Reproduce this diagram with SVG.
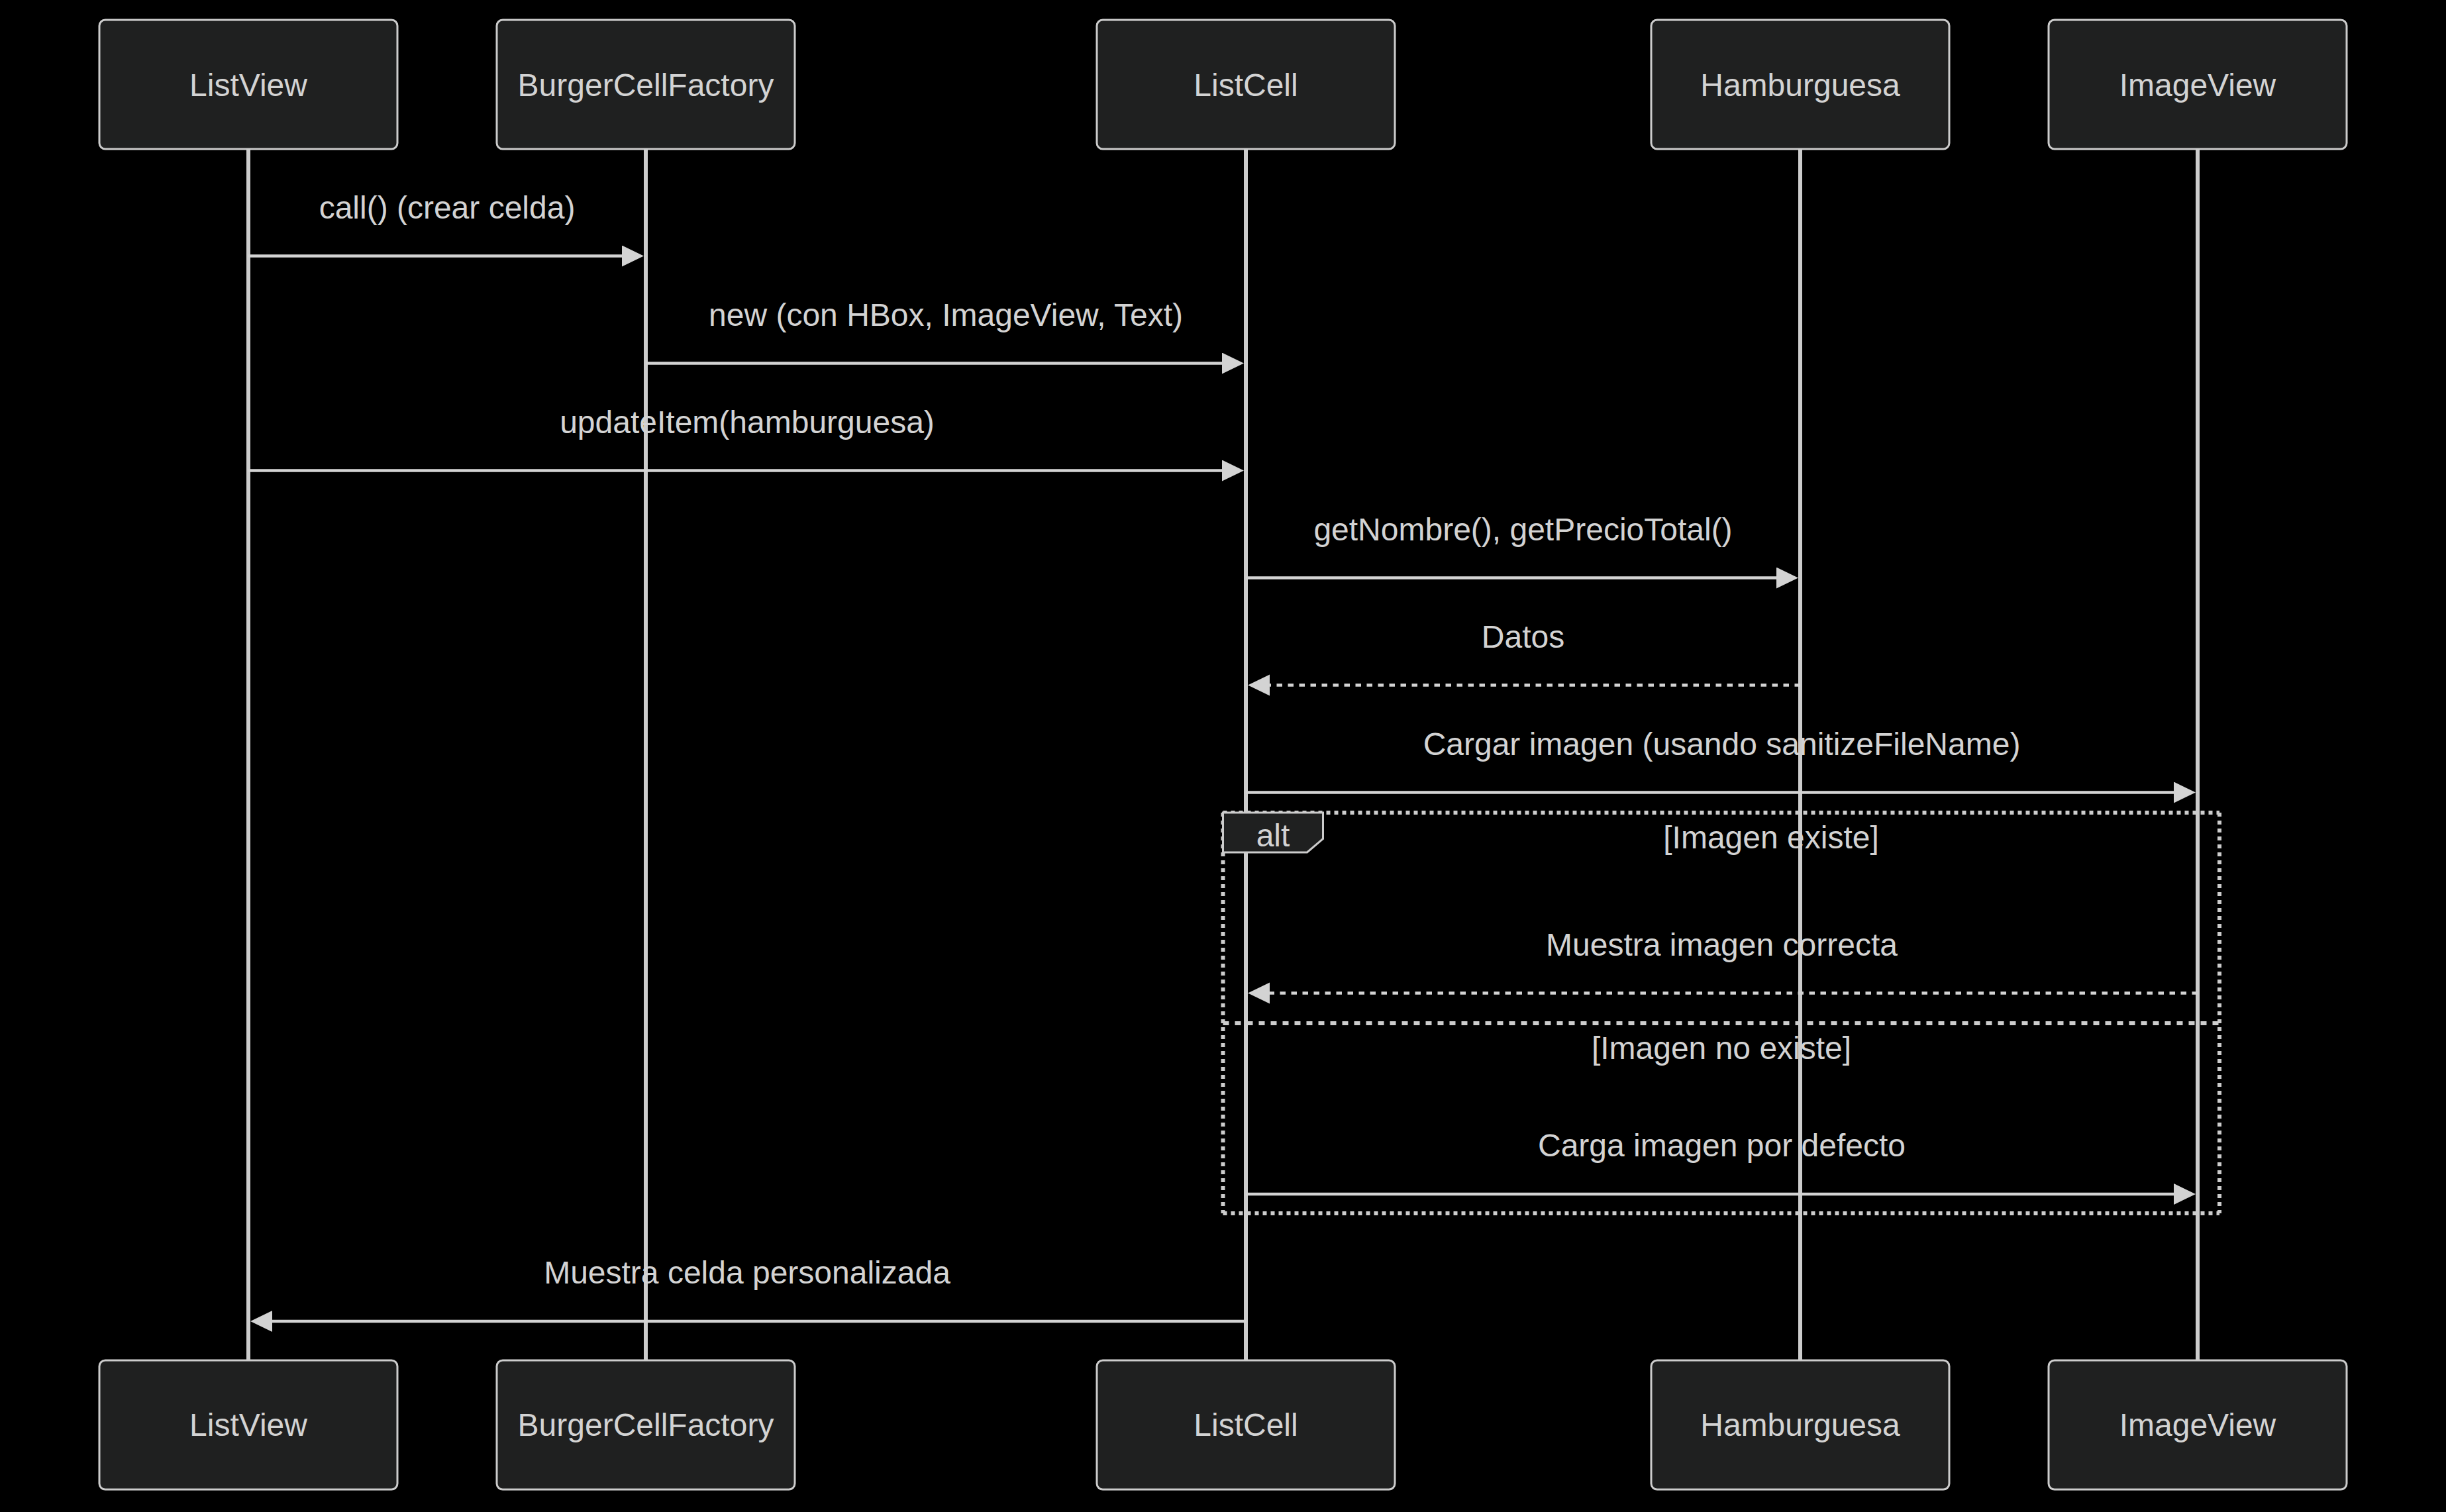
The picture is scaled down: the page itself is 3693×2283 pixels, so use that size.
<svg xmlns="http://www.w3.org/2000/svg" width="3693" height="2283" viewBox="0 0 3693 2283">
  <style>
    .actor { fill: #1f2020; stroke: #cccccc; stroke-width: 3; }
    .actor-text { fill: #d3d3d3; font-family: "Liberation Sans", Arial, sans-serif; font-size: 48px; text-anchor: middle; }
    .lifeline { stroke: #cccccc; stroke-width: 6; }
    .msg { stroke: #d3d3d3; stroke-width: 4.5; fill: none; }
    .msg-dashed { stroke: #d3d3d3; stroke-width: 4.5; fill: none; stroke-dasharray: 8.5 8.5; }
    .msg-text { fill: #d3d3d3; font-family: "Liberation Sans", Arial, sans-serif; font-size: 48px; text-anchor: middle; }
    .loop-line { stroke: #cccccc; stroke-width: 6; stroke-dasharray: 6 6; fill: none; }
    .loop-sep { stroke: #cccccc; stroke-width: 6; stroke-dasharray: 9 9; fill: none; }
    .label-box { fill: #1f2020; stroke: #cccccc; stroke-width: 3; }
  </style>
  <defs>
    <marker id="arrowhead" markerUnits="userSpaceOnUse" markerWidth="40" markerHeight="40" refX="23" refY="16" orient="auto">
      <path d="M0,0 L33,16 L0,32 z" fill="#d3d3d3"/>
    </marker>
  </defs>

  <rect x="0" y="0" width="3693" height="2283" fill="#000000"/>

  <!-- lifelines -->
  <g id="lifelines">
    <line class="lifeline" x1="375" y1="225" x2="375" y2="2054"/>
    <line class="lifeline" x1="975" y1="225" x2="975" y2="2054"/>
    <line class="lifeline" x1="1881" y1="225" x2="1881" y2="2054"/>
    <line class="lifeline" x1="2718" y1="225" x2="2718" y2="2054"/>
    <line class="lifeline" x1="3318" y1="225" x2="3318" y2="2054"/>
  </g>

  <!-- participants (top) -->
  <g id="ListView">
    <rect class="actor" x="150" y="30" width="450" height="195" rx="9" ry="9"/>
    <text class="actor-text" x="375" y="145">ListView</text>
  </g>
  <g id="BurgerCellFactory">
    <rect class="actor" x="750" y="30" width="450" height="195" rx="9" ry="9"/>
    <text class="actor-text" x="975" y="145">BurgerCellFactory</text>
  </g>
  <g id="ListCell">
    <rect class="actor" x="1656" y="30" width="450" height="195" rx="9" ry="9"/>
    <text class="actor-text" x="1881" y="145">ListCell</text>
  </g>
  <g id="Hamburguesa">
    <rect class="actor" x="2493" y="30" width="450" height="195" rx="9" ry="9"/>
    <text class="actor-text" x="2718" y="145">Hamburguesa</text>
  </g>
  <g id="ImageView">
    <rect class="actor" x="3093" y="30" width="450" height="195" rx="9" ry="9"/>
    <text class="actor-text" x="3318" y="145">ImageView</text>
  </g>

  <!-- alt fragment -->
  <g id="alt-fragment">
    <line class="loop-line" x1="1846.5" y1="1227" x2="3351" y2="1227"/>
    <line class="loop-line" x1="3351" y1="1227" x2="3351" y2="1832"/>
    <line class="loop-line" x1="1846.5" y1="1832" x2="3351" y2="1832"/>
    <line class="loop-line" x1="1846.5" y1="1227" x2="1846.5" y2="1832"/>
    <line class="loop-sep" x1="1846.5" y1="1545" x2="3351" y2="1545"/>
    <polygon class="label-box" points="1846.5,1227 1997.5,1227 1997.5,1266.5 1973.5,1287 1846.5,1287"/>
    <text class="msg-text" x="1922" y="1278">alt</text>
    <text class="msg-text" x="2674" y="1281">[Imagen existe]</text>
    <text class="msg-text" x="2599" y="1599">[Imagen no existe]</text>
  </g>

  <!-- messages -->
  <g id="connectors">
    <line class="msg" x1="375" y1="386.5" x2="962" y2="386.5" marker-end="url(#arrowhead)"/>
    <line class="msg" x1="975" y1="548.5" x2="1868" y2="548.5" marker-end="url(#arrowhead)"/>
    <line class="msg" x1="375" y1="710.5" x2="1868" y2="710.5" marker-end="url(#arrowhead)"/>
    <line class="msg" x1="1881" y1="872.5" x2="2705" y2="872.5" marker-end="url(#arrowhead)"/>
    <line class="msg-dashed" x1="2718" y1="1034.5" x2="1894" y2="1034.5" marker-end="url(#arrowhead)"/>
    <line class="msg" x1="1881" y1="1196.5" x2="3305" y2="1196.5" marker-end="url(#arrowhead)"/>
    <line class="msg-dashed" x1="3318" y1="1499.5" x2="1894" y2="1499.5" marker-end="url(#arrowhead)"/>
    <line class="msg" x1="1881" y1="1803" x2="3305" y2="1803" marker-end="url(#arrowhead)"/>
    <line class="msg" x1="1881" y1="1995" x2="388" y2="1995" marker-end="url(#arrowhead)"/>
  </g>

  <!-- message labels -->
  <g id="message-labels">
    <text class="msg-text" x="675" y="329.5">call() (crear celda)</text>
    <text class="msg-text" x="1428" y="491.5">new (con HBox, ImageView, Text)</text>
    <text class="msg-text" x="1128" y="653.5">updateItem(hamburguesa)</text>
    <text class="msg-text" x="2299.5" y="815.5">getNombre(), getPrecioTotal()</text>
    <text class="msg-text" x="2299.5" y="977.5">Datos</text>
    <text class="msg-text" x="2599.5" y="1139.5">Cargar imagen (usando sanitizeFileName)</text>
    <text class="msg-text" x="2599.5" y="1442.5">Muestra imagen correcta</text>
    <text class="msg-text" x="2599.5" y="1746">Carga imagen por defecto</text>
    <text class="msg-text" x="1128" y="1938">Muestra celda personalizada</text>
  </g>

  <!-- participants (bottom) -->
  <g id="ListView-bottom">
    <rect class="actor" x="150" y="2054" width="450" height="195" rx="9" ry="9"/>
    <text class="actor-text" x="375" y="2168">ListView</text>
  </g>
  <g id="BurgerCellFactory-bottom">
    <rect class="actor" x="750" y="2054" width="450" height="195" rx="9" ry="9"/>
    <text class="actor-text" x="975" y="2168">BurgerCellFactory</text>
  </g>
  <g id="ListCell-bottom">
    <rect class="actor" x="1656" y="2054" width="450" height="195" rx="9" ry="9"/>
    <text class="actor-text" x="1881" y="2168">ListCell</text>
  </g>
  <g id="Hamburguesa-bottom">
    <rect class="actor" x="2493" y="2054" width="450" height="195" rx="9" ry="9"/>
    <text class="actor-text" x="2718" y="2168">Hamburguesa</text>
  </g>
  <g id="ImageView-bottom">
    <rect class="actor" x="3093" y="2054" width="450" height="195" rx="9" ry="9"/>
    <text class="actor-text" x="3318" y="2168">ImageView</text>
  </g>
</svg>
